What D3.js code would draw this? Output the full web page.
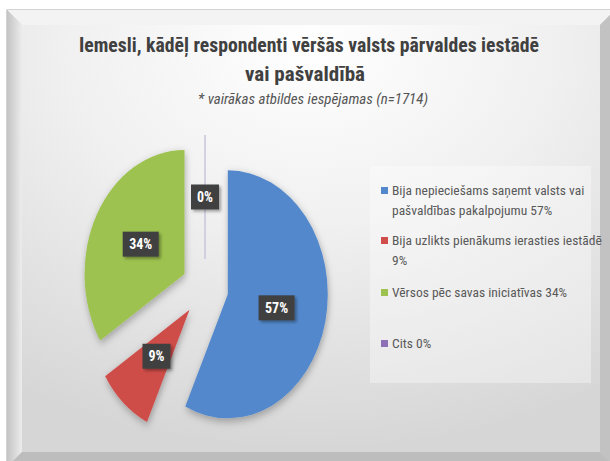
<!DOCTYPE html>
<html>
<head>
<meta charset="utf-8">
<script src="https://cdn.jsdelivr.net/npm/d3@7"></script>
<style>
  body { margin: 0; background: #fff; }
  text { font-family: "Liberation Sans Narrow", "Roboto Condensed", "Open Sans", sans-serif; }
</style>
</head>
<body>
<svg id="chart" width="610" height="461"></svg>
<script>
// data
var categories = ["Bija nepieciešams saņemt valsts vai pašvaldības pakalpojumu",
                  "Bija uzlikts pienākums ierasties iestādē",
                  "Vērsos pēc savas iniciatīvas",
                  "Cits"];
var values = [57, 9, 34, 0];
var colors = ["#5389cc", "#cf4d4a", "#9dc24f", "#c9c4dd"];
var legendColors = ["#5389cc", "#cf4d4a", "#9dc24f", "#8e70b8"];
var legendLines = [["Bija nepieciešams saņemt valsts vai", "pašvaldības pakalpojumu  57%"],
                   ["Bija uzlikts pienākums ierasties iestādē", "9%"],
                   ["Vērsos pēc savas iniciatīvas  34%"],
                   ["Cits 0%"]];
var titleLines = ["Iemesli, kādēļ respondenti vēršās valsts pārvaldes iestādē", "vai pašvaldībā"];
var subtitle = "* vairākas atbildes iespējamas (n=1714)";

var svg = d3.select("#chart");
var defs = svg.append("defs");

// background gradients
var rg = defs.append("radialGradient").attr("id", "panel")
    .attr("cx", "0.5").attr("cy", "0.05").attr("r", "0.95");
rg.append("stop").attr("offset", "0").attr("stop-color", "#ffffff");
rg.append("stop").attr("offset", "0.45").attr("stop-color", "#f0f0f0");
rg.append("stop").attr("offset", "1").attr("stop-color", "#d6d6d6");

var lg = defs.append("linearGradient").attr("id", "leftb").attr("x1", 0).attr("x2", 1);
lg.append("stop").attr("offset", 0).attr("stop-color", "#c4c4c4");
lg.append("stop").attr("offset", 1).attr("stop-color", "#ececec");

var sh = defs.append("filter").attr("id", "shadow")
    .attr("x", "-30%").attr("y", "-30%").attr("width", "160%").attr("height", "160%");
sh.append("feDropShadow").attr("dx", 1).attr("dy", 3).attr("stdDeviation", 4)
    .attr("flood-color", "#000").attr("flood-opacity", 0.3);

var bsh = defs.append("filter").attr("id", "boxshadow")
    .attr("x", "-40%").attr("y", "-40%").attr("width", "180%").attr("height", "180%");
bsh.append("feDropShadow").attr("dx", 2).attr("dy", 2).attr("stdDeviation", 1.5)
    .attr("flood-color", "#000").attr("flood-opacity", 0.35);

// bevelled frame
var x0 = 7, y0 = 10, x1 = 615, y1 = 467, b = 15;
svg.append("rect").attr("x", x0).attr("y", y0).attr("width", x1 - x0).attr("height", y1 - y0)
    .attr("fill", "#d0d0d0").attr("stroke", "#a8a8a8");
svg.append("polygon")
    .attr("points", [[x0, y0], [x1, y0], [x1 - b, y0 + b], [x0 + b, y0 + b]].join(" "))
    .attr("fill", "#f3f3f3");
svg.append("polygon")
    .attr("points", [[x0, y0], [x0 + b, y0 + b], [x0 + b, y1 - b], [x0, y1]].join(" "))
    .attr("fill", "url(#leftb)");
svg.append("polygon")
    .attr("points", [[x1, y0], [x1 - b, y0 + b], [x1 - b, y1 - b], [x1, y1]].join(" "))
    .attr("fill", "#c2c2c2");
svg.append("polygon")
    .attr("points", [[x0, y1], [x0 + b, y1 - b], [x1 - b, y1 - b], [x1, y1]].join(" "))
    .attr("fill", "#bdbdbd");
svg.append("rect").attr("x", x0 + b).attr("y", y0 + b)
    .attr("width", x1 - x0 - 2 * b).attr("height", y1 - y0 - 2 * b)
    .attr("fill", "url(#panel)");

// title
var title = svg.append("g").attr("fill", "#404040").attr("font-weight", "bold")
    .attr("text-anchor", "middle");
title.append("text").attr("x", 309).attr("y", 52).attr("font-size", 21)
    .attr("textLength", 460).attr("lengthAdjust", "spacingAndGlyphs").text(titleLines[0]);
title.append("text").attr("x", 305).attr("y", 81).attr("font-size", 21)
    .attr("textLength", 120).attr("lengthAdjust", "spacingAndGlyphs").text(titleLines[1]);
svg.append("text").attr("x", 313).attr("y", 104).attr("font-size", 14)
    .attr("font-style", "italic").attr("fill", "#555").attr("text-anchor", "middle")
    .attr("textLength", 230).attr("lengthAdjust", "spacingAndGlyphs").text(subtitle);

// pie
var cx = 205, cy = 288, r = 124, sx = 0.806, explode = 29;
var pie = d3.pie().sort(null).value(function(d) { return d; });
var arcs = pie(values);
var arc = d3.arc().innerRadius(0).outerRadius(r);

function offset(d, dist) {
    var a = (d.startAngle + d.endAngle) / 2;
    return [Math.sin(a) * dist, -Math.cos(a) * dist];
}

var pieG = svg.append("g").attr("transform", "translate(" + cx + "," + cy + ")");
pieG.selectAll("path.slice").data(arcs).enter()
    .append("path")
    .attr("class", "slice")
    .attr("transform", function(d) {
        var o = offset(d, explode);
        return "scale(" + sx + ",1) translate(" + o[0] + "," + o[1] + ")";
    })
    .attr("d", arc)
    .attr("fill", function(d, i) { return colors[i]; })
    .attr("stroke", function(d, i) { return d.value === 0 ? colors[i] : "none"; })
    .attr("vector-effect", "non-scaling-stroke")
    .attr("filter", function(d) { return d.value === 0 ? null : "url(#shadow)"; });

// data labels
var lab = pieG.selectAll("g.lab").data(arcs).enter()
    .append("g").attr("class", "lab")
    .attr("transform", function(d) {
        var o = offset(d, explode);
        var c = arc.centroid(d);
        return "translate(" + ((c[0] + o[0]) * sx) + "," + (c[1] + o[1]) + ")";
    });
lab.append("rect")
    .attr("x", function(d) { return d.value >= 10 ? -18 : -14; })
    .attr("width", function(d) { return d.value >= 10 ? 36 : 28; })
    .attr("y", -12.5).attr("height", 25)
    .attr("fill", "#404040").attr("filter", "url(#boxshadow)");
lab.append("text")
    .attr("text-anchor", "middle").attr("dy", "0.36em")
    .attr("font-size", 14).attr("font-weight", "bold").attr("fill", "#fff")
    .text(function(d) { return d.value + "%"; });

// legend
var legend = svg.append("g");
legend.append("rect").attr("x", 370).attr("y", 166).attr("width", 221).attr("height", 217)
    .attr("fill", "#fff").attr("opacity", 0.35);
var itemY = [195, 245, 297, 348];
var item = legend.selectAll("g.item").data(categories).enter()
    .append("g").attr("class", "item")
    .attr("transform", function(d, i) { return "translate(381," + itemY[i] + ")"; });
item.append("rect").attr("x", 0).attr("y", -8).attr("width", 7).attr("height", 7)
    .attr("fill", function(d, i) { return legendColors[i]; });
item.each(function(d, i) {
    var t = d3.select(this).append("text").attr("x", 11).attr("font-size", 13.5).attr("fill", "#595959");
    legendLines[i].forEach(function(line, j) {
        t.append("tspan").attr("x", 11).attr("y", j * 20).text(line);
    });
});
</script>
</body>
</html>
